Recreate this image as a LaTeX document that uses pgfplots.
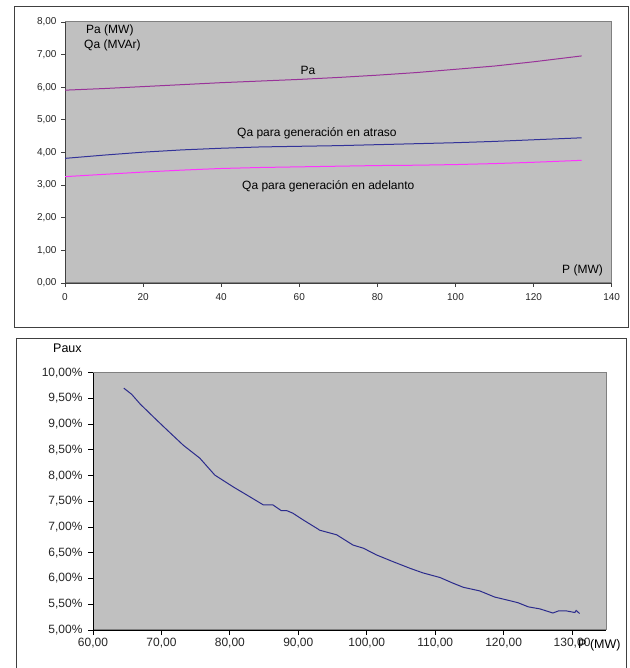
\documentclass[border=0pt]{standalone}
\usepackage{pgfplots}
\pgfplotsset{compat=1.18}
\usepackage{fontspec}
\setmainfont{Liberation Sans}
\definecolor{plotbg}{HTML}{C0C0C0}
\definecolor{pacol}{HTML}{993399}
\definecolor{atcol}{HTML}{333399}
\definecolor{adcol}{HTML}{FF33FF}
\definecolor{pauxcol}{HTML}{2B2B8C}
\definecolor{framecol}{HTML}{404040}
\definecolor{bordercol}{HTML}{808080}

\begin{document}
\begin{tikzpicture}[x=1pt,y=1pt]
\useasboundingbox[fill=white] (0,0) rectangle (629,668);
\draw[framecol, line width=1pt] (14,661) rectangle (628,340);
\draw[framecol, line width=1pt] (16,-2) -- (16,329) -- (626,329) -- (626,-2);

\begin{axis}[
  at={(65pt,385pt)}, anchor=south west, scale only axis,
  width=546.7pt, height=261pt,
  xmin=0, xmax=140, ymin=0, ymax=8,
  axis background/.style={fill=plotbg, draw=bordercol, line width=1pt},
  axis lines=left,
  axis line style={-, framecol, line width=0.8pt},
  xtick={0,20,40,60,80,100,120,140},
  xticklabels={0,20,40,60,80,100,120,140},
  ytick={0,1,2,3,4,5,6,7,8},
  yticklabels={{0,00},{1,00},{2,00},{3,00},{4,00},{5,00},{6,00},{7,00},{8,00}},
  tick align=outside, major tick length=4pt,
  tick style={framecol, line width=0.8pt},
  ticklabel style={font=\fontsize{10}{12}\selectfont, text=black!85},
  xticklabel style={yshift=-3pt},
  yticklabel style={xshift=-1pt},
]
\addplot[pacol, line width=1pt] coordinates {
(0,5.91) (10,5.96) (20,6.02) (30,6.08) (40,6.14) (50,6.19) (60,6.24) (70,6.30)
(80,6.37) (90,6.45) (100,6.55) (110,6.65) (120,6.78) (132.3,6.96)};
\addplot[atcol, line width=1pt] coordinates {
(0,3.82) (10,3.92) (20,4.01) (30,4.08) (40,4.13) (50,4.17) (60,4.19) (70,4.21)
(80,4.24) (90,4.27) (100,4.30) (110,4.34) (120,4.39) (132.3,4.45)};
\addplot[adcol, line width=1pt] coordinates {
(0,3.26) (10,3.33) (20,3.40) (30,3.46) (40,3.51) (50,3.54) (60,3.56) (70,3.58)
(80,3.60) (90,3.61) (100,3.63) (110,3.66) (120,3.70) (132.3,3.76)};
\end{axis}

\begin{axis}[
  at={(93pt,38pt)}, anchor=south west, scale only axis,
  width=513.3pt, height=257.3pt,
  xmin=60, xmax=135, ymin=5, ymax=10,
  axis background/.style={fill=plotbg, draw=bordercol, line width=1pt},
  axis lines=left,
  axis line style={-, black, line width=0.8pt},
  xtick={60,70,80,90,100,110,120,130},
  xticklabels={{60,00},{70,00},{80,00},{90,00},{100,00},{110,00},{120,00},{130,00}},
  ytick={5,5.5,6,6.5,7,7.5,8,8.5,9,9.5,10},
  yticklabels={{5,00\%},{5,50\%},{6,00\%},{6,50\%},{7,00\%},{7,50\%},{8,00\%},{8,50\%},{9,00\%},{9,50\%},{10,00\%}},
  tick align=outside, major tick length=5pt,
  tick style={black, line width=0.8pt},
  ticklabel style={font=\fontsize{12}{14}\selectfont, text=black!85},
  yticklabel style={xshift=-2pt},
]
\addplot[pauxcol, line width=1pt] coordinates {
(64.5,9.70) (65.65,9.58) (66.9,9.39) (69.3,9.08) (70.8,8.89) (73.2,8.59) (75.6,8.34)
(77.8,8.01) (80.5,7.78) (82.9,7.59) (84.9,7.43) (86.3,7.43) (87.5,7.32) (88.3,7.32)
(89.2,7.27) (90.7,7.14) (92.9,6.96) (93.1,6.94) (95.6,6.85) (98.0,6.65) (99.5,6.59)
(101.4,6.46) (103.8,6.33) (106.3,6.20) (108.2,6.11) (110.7,6.02) (112.6,5.91)
(114.1,5.83) (116.5,5.76) (118.7,5.64) (120.9,5.57) (122.1,5.53) (123.6,5.45)
(125.3,5.41) (127.2,5.33) (128.0,5.37) (129.2,5.37) (130.4,5.34) (130.6,5.38) (131.1,5.32)};
\end{axis}

\begin{scope}[every node/.style={inner sep=0pt, text=black}]
\node[anchor=west, font=\fontsize{12}{14}\selectfont] at (86,638) {Pa (MW)};
\node[anchor=west, font=\fontsize{12}{14}\selectfont] at (84,623) {Qa (MVAr)};
\node[font=\fontsize{12}{14}\selectfont] at (308,598) {Pa};
\node[anchor=west, font=\fontsize{12}{14}\selectfont] at (237,535) {Qa para generación en atraso};
\node[anchor=west, font=\fontsize{12}{14}\selectfont] at (242,481.3) {Qa para generación en adelanto};
\node[anchor=west, font=\fontsize{12}{14}\selectfont] at (562,398) {P (MW)};
\node[anchor=west, font=\fontsize{12.5}{14}\selectfont] at (53,320) {Paux};
\node[anchor=west, font=\fontsize{12.5}{14}\selectfont] at (578,23) {P (MW)};
\end{scope}
\end{tikzpicture}
\end{document}
